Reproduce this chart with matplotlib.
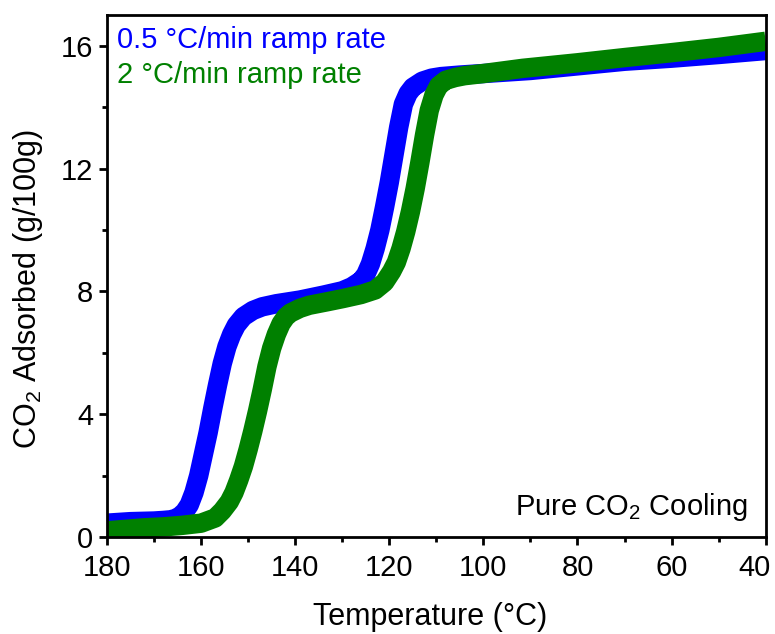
import numpy as np
import matplotlib.pyplot as plt
from matplotlib.ticker import MultipleLocator
from matplotlib.transforms import ScaledTranslation

plt.rcParams['font.family'] = 'Liberation Sans'
plt.rcParams['mathtext.default'] = 'regular'
plt.rcParams['font.size'] = 21

# 0.5 C/min cooling run
temp_slow = [180, 175, 170, 168, 166.5, 165.5, 164.5, 163.5, 162.5, 161.5, 160.5,
             159.5, 158.5, 157.5, 156.5, 155.5, 154.5, 153.5, 152.5, 151, 149,
             147, 144, 139, 134, 130, 128, 126, 125, 124, 123, 122, 121, 120,
             119, 118, 117, 116, 115, 113, 111, 109, 105, 100, 90, 80, 70, 60,
             50, 40]
co2_slow = [0.45, 0.5, 0.52, 0.54, 0.56, 0.6, 0.68, 0.82, 1.05, 1.45, 2.0,
            2.7, 3.4, 4.2, 4.95, 5.65, 6.2, 6.6, 6.9, 7.18, 7.38,
            7.5, 7.6, 7.72, 7.88, 8.02, 8.15, 8.35, 8.55, 8.9, 9.4, 10.0, 10.75,
            11.55, 12.45, 13.35, 14.1, 14.45, 14.65, 14.85, 14.95, 15.0, 15.05,
            15.1, 15.2, 15.35, 15.5, 15.6, 15.72, 15.85]

# 2 C/min cooling run
temp_fast = [180, 176, 172, 168, 164, 160, 157, 155.5, 154, 153, 152, 151, 150,
             149, 148, 147, 146, 145, 144, 143, 142, 141, 139, 137, 133, 129.8,
             126, 123, 121, 119.5, 118.5, 117.5, 116.5, 115.5, 114.5, 113.5,
             112.5, 111.5, 110.5, 109.5, 108, 106, 104, 100, 91.6, 80, 70, 60,
             50, 40]
co2_fast = [0.2, 0.25, 0.3, 0.33, 0.38, 0.45, 0.62, 0.85, 1.15, 1.45, 1.85, 2.3,
            2.85, 3.45, 4.1, 4.8, 5.55, 6.15, 6.6, 6.95, 7.17, 7.3, 7.45, 7.55,
            7.67, 7.77, 7.9, 8.05, 8.3, 8.65, 8.95, 9.4, 9.95, 10.6, 11.35, 12.2,
            13.1, 13.9, 14.4, 14.7, 14.88, 14.97, 15.03, 15.1, 15.27, 15.45,
            15.62, 15.78, 15.95, 16.15]

x_ticks = [180, 160, 140, 120, 100, 80, 60, 40]

fig = plt.figure(figsize=(7.75, 6.34), dpi=100)
ax = fig.add_axes([0.138, 0.153, 0.850, 0.823])

ax.plot(temp_slow, co2_slow, color='#0000FF', lw=14,
        solid_capstyle='butt', solid_joinstyle='round')
ax.plot(temp_fast, co2_fast, color='#008000', lw=14,
        solid_capstyle='butt', solid_joinstyle='round')

ax.set_xlim(180, 40)
ax.set_ylim(0, 17)
ax.set_xticks(x_ticks)
ax.xaxis.set_minor_locator(MultipleLocator(10))
ax.yaxis.set_major_locator(MultipleLocator(4))
ax.yaxis.set_minor_locator(MultipleLocator(2))

for sp in ax.spines.values():
    sp.set_linewidth(2)
ax.tick_params(which='major', direction='out', length=6, width=2)
ax.tick_params(which='minor', direction='out', length=3.5, width=2)
ax.tick_params(axis='x', which='major', pad=6)
ax.tick_params(axis='y', which='major', pad=4)

# keep the last x label inside the figure
last = ax.get_xticklabels()[-1]
last.set_transform(last.get_transform() +
                   ScaledTranslation(-0.11, 0, fig.dpi_scale_trans))

ax.set_xlabel('Temperature (°C)', fontsize=22)
ax.set_ylabel('CO$_2$ Adsorbed (g/100g)', fontsize=22)
ax.xaxis.set_label_coords(0.49, -0.125)
ax.yaxis.set_label_coords(-0.094, 0.475)

ax.text(0.015, 0.952, '0.5 °C/min ramp rate', color='#0000FF',
        transform=ax.transAxes, va='center', ha='left')
ax.text(0.015, 0.885, '2 °C/min ramp rate', color='#008000',
        transform=ax.transAxes, va='center', ha='left')
ax.text(0.973, 0.058, 'Pure CO$_2$ Cooling', transform=ax.transAxes,
        va='center', ha='right')

fig.savefig('out.png', dpi=100)
